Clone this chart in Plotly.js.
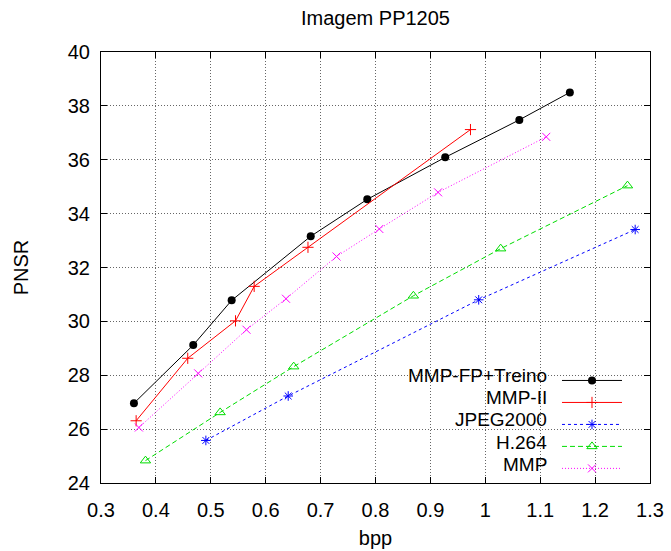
<!DOCTYPE html>
<html>
<head>
<meta charset="utf-8">
<script src="https://cdn.plot.ly/plotly-3.0.1.min.js"></script>
<style>html,body{margin:0;padding:0;background:#fff;}#chart{width:671px;height:551px;}</style>
</head>
<body>
<div id="chart"></div>
<script>
var seriesNames = ["MMP-FP+Treino", "MMP-II", "JPEG2000", "H.264", "MMP"];

var fpX = [0.360, 0.468, 0.538, 0.682, 0.785, 0.927, 1.062, 1.154];
var fpY = [26.96, 29.12, 30.78, 33.16, 34.53, 36.09, 37.48, 38.50];

var mmp2X = [0.364, 0.458, 0.545, 0.579, 0.677, 0.973];
var mmp2Y = [26.31, 28.63, 30.02, 31.30, 32.75, 37.12];

var jpegX = [0.491, 0.641, 0.988, 1.273];
var jpegY = [25.58, 27.23, 30.80, 33.41];

var h264X = [0.381, 0.517, 0.651, 0.869, 1.028, 1.259];
var h264Y = [24.83, 26.62, 28.32, 30.95, 32.70, 35.04];

var mmpX = [0.369, 0.477, 0.565, 0.637, 0.729, 0.807, 0.914, 1.111];
var mmpY = [26.06, 28.07, 29.69, 30.84, 32.41, 33.43, 34.79, 36.85];

var xTicks = [0.3, 0.4, 0.5, 0.6, 0.7, 0.8, 0.9, 1, 1.1, 1.2, 1.3];
var xTickLabels = ["0.3", "0.4", "0.5", "0.6", "0.7", "0.8", "0.9", "1", "1.1", "1.2", "1.3"];
var yTicks = [24, 26, 28, 30, 32, 34, 36, 38, 40];
var yTickLabels = ["24", "26", "28", "30", "32", "34", "36", "38", "40"];

var FONT = "Liberation Sans, Arial, sans-serif";

function tr(x, y, color, dash, symbol, size, lineW) {
  return {
    x: x, y: y, type: "scatter", mode: "lines+markers", name: " ",
    line: {color: color, width: 1, dash: dash},
    marker: {color: color, symbol: symbol, size: size, line: {color: color, width: lineW}},
    hoverinfo: "x+y"
  };
}

var data = [
  tr(fpX, fpY, "#000000", "solid", "circle", 8, 0),
  tr(mmp2X, mmp2Y, "#ff0000", "solid", "cross-thin", 8, 1),
  tr(jpegX, jpegY, "#0000ff", "3px,3px", "asterisk", 8, 1),
  tr(h264X, h264Y, "#00dd00", "5px,3px", "triangle-up-open", 9, 1),
  tr(mmpX, mmpY, "#ff00ff", "1px,2px", "x-thin", 8, 1)
];

var legendRowsY = [0.249, 0.198, 0.147, 0.0935, 0.0425];
var annotations = seriesNames.map(function (n, i) {
  return {
    text: n, xref: "paper", yref: "paper", x: 0.8142, y: legendRowsY[i],
    xanchor: "right", yanchor: "middle", showarrow: false, borderpad: 0,
    font: {family: FONT, size: 19, color: "#000"}
  };
});

var axisCommon = {
  showline: true, linecolor: "#000", linewidth: 1, mirror: "allticks",
  ticks: "inside", ticklen: 6, tickcolor: "#000", tickwidth: 1,
  showgrid: true, gridcolor: "#666", gridwidth: 1, griddash: "1px,2px",
  zeroline: false, tickfont: {family: FONT, size: 20, color: "#000"}
};

var layout = {
  width: 671, height: 551,
  margin: {l: 101, r: 21, t: 52, b: 68},
  paper_bgcolor: "#fff", plot_bgcolor: "#fff",
  title: {text: "Imagem PP1205", font: {family: FONT, size: 20, color: "#000"},
          x: 0.5, xref: "paper", y: 1 - 18 / 551, yref: "container", yanchor: "middle"},
  xaxis: Object.assign({}, axisCommon, {
    range: [0.3, 1.3], tickvals: xTicks, ticktext: xTickLabels, ticklabelstandoff: 9,
    title: {text: "bpp", font: {family: FONT, size: 20, color: "#000"}, standoff: 10}
  }),
  yaxis: Object.assign({}, axisCommon, {
    range: [24, 40], tickvals: yTicks, ticktext: yTickLabels, ticklabelstandoff: 6,
    title: {text: "PNSR", font: {family: FONT, size: 20, color: "#000"}, standoff: 33}
  }),
  shapes: [{
    type: "rect", xref: "paper", yref: "paper", x0: 0.4954, x1: 0.9745, y0: 0, y1: 0.293,
    fillcolor: "#fff", line: {width: 0}, layer: "between"
  }],
  annotations: annotations,
  showlegend: true,
  legend: {
    x: 0.8306, y: 0.275, xanchor: "left", yanchor: "top",
    bgcolor: "rgba(0,0,0,0)", borderwidth: 0, itemwidth: 60,
    font: {family: FONT, size: 14.6}, tracegroupgap: 0
  }
};

Plotly.newPlot("chart", data, layout, {displayModeBar: false, staticPlot: true});
</script>
</body>
</html>
